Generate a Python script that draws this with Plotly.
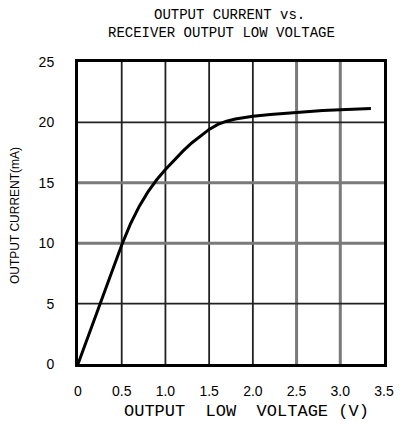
import plotly.graph_objects as go

voltage = [0, 0.1, 0.2, 0.3, 0.4, 0.5, 0.6, 0.7, 0.8, 0.9, 1.0, 1.1, 1.2, 1.3, 1.4,
           1.5, 1.6, 1.7, 1.8, 1.9, 2.0, 2.2, 2.5, 2.8, 3.0, 3.2, 3.35]
current = [0, 2.0, 4.0, 6.0, 7.95, 9.85, 11.6, 13.05, 14.25, 15.25, 16.1, 16.9, 17.62, 18.3, 18.9,
           19.42, 19.83, 20.1, 20.28, 20.41, 20.51, 20.66, 20.85, 20.98, 21.05, 21.12, 21.15]

x_ticks = [0, 0.5, 1.0, 1.5, 2.0, 2.5, 3.0, 3.5]
x_ticktext = ["0", "0.5", "1.0", "1.5", "2.0", "2.5", "3.0", "3.5"]
y_ticks = [0, 5, 10, 15, 20, 25]
y_ticktext = ["0", "5", "10", "15", "20", "25"]

# grid line tone per inner tick (scanned-chart look): True = light/grey
x_grid_light = [False, False, False, False, True, True]   # 0.5 .. 3.0
y_grid_light = [False, True, True, False]                  # 5 .. 20

title_line1 = "OUTPUT CURRENT vs."
title_line2 = "RECEIVER OUTPUT LOW VOLTAGE"
x_title = "OUTPUT  LOW  VOLTAGE (V)"
y_title = "OUTPUT CURRENT(mA)"

OFF = 8  # page body margin
W, H = 406, 423
L, T = 78 - OFF, 62 - OFF
PW, PH = 384 - 78, 364 - 62
R = W - L - PW
B = H - T - PH

def px(x):
    return (x - OFF - L) / PW

def py(y):
    return (T + PH - (y - OFF)) / PH

fig = go.Figure()

shapes = []
def grid_style(light):
    return dict(color="#7a7a7a", width=3) if light else dict(color="#222222", width=1.8)

for v, light in zip(x_ticks[1:-1], x_grid_light):
    shapes.append(dict(type="line", xref="x", yref="paper", x0=v, x1=v, y0=0, y1=1,
                       line=grid_style(light), layer="below"))
for v, light in zip(y_ticks[1:-1], y_grid_light):
    shapes.append(dict(type="line", xref="paper", yref="y", x0=0, x1=1, y0=v, y1=v,
                       line=grid_style(light), layer="below"))

fig.add_trace(go.Scatter(x=voltage, y=current, mode="lines",
                         line=dict(color="black", width=3, shape="linear"),
                         showlegend=False, hoverinfo="skip"))

mono = "Liberation Mono"
fig.update_layout(
    width=W, height=H,
    margin=dict(l=L, r=R, t=T, b=B),
    paper_bgcolor="white", plot_bgcolor="white",
    font=dict(family="Liberation Sans", color="black"),
    shapes=shapes,
    annotations=[
        dict(text=title_line1, x=px(229), y=py(15), xref="paper", yref="paper",
             xanchor="center", yanchor="middle", showarrow=False,
             font=dict(family=mono, size=14, color="black")),
        dict(text=title_line2, x=px(221), y=py(33), xref="paper", yref="paper",
             xanchor="center", yanchor="middle", showarrow=False,
             font=dict(family=mono, size=14, color="black")),
        dict(text=x_title, x=px(246), y=py(411), xref="paper", yref="paper",
             xanchor="center", yanchor="middle", showarrow=False,
             font=dict(family=mono, size=17, color="black")),
        dict(text=y_title, x=px(15), y=py(216), xref="paper", yref="paper",
             xanchor="center", yanchor="middle", showarrow=False, textangle=-90,
             font=dict(family="Liberation Sans", size=12, color="black")),
    ],
)
fig.update_xaxes(range=[0, 3.5], tickvals=x_ticks, ticktext=x_ticktext,
                 showgrid=False,
                 showline=True, linecolor="black", linewidth=3, mirror=True,
                 zeroline=False, ticks="", ticklabelstandoff=12, automargin=False,
                 tickfont=dict(family="Liberation Sans", size=14, color="black"))
fig.update_yaxes(range=[0, 25], tickvals=y_ticks, ticktext=y_ticktext,
                 showgrid=False,
                 showline=True, linecolor="black", linewidth=3, mirror=True,
                 zeroline=False, ticks="", ticklabelstandoff=18, automargin=False,
                 tickfont=dict(family="Liberation Sans", size=14, color="black"))

fig.write_html("out.html")
